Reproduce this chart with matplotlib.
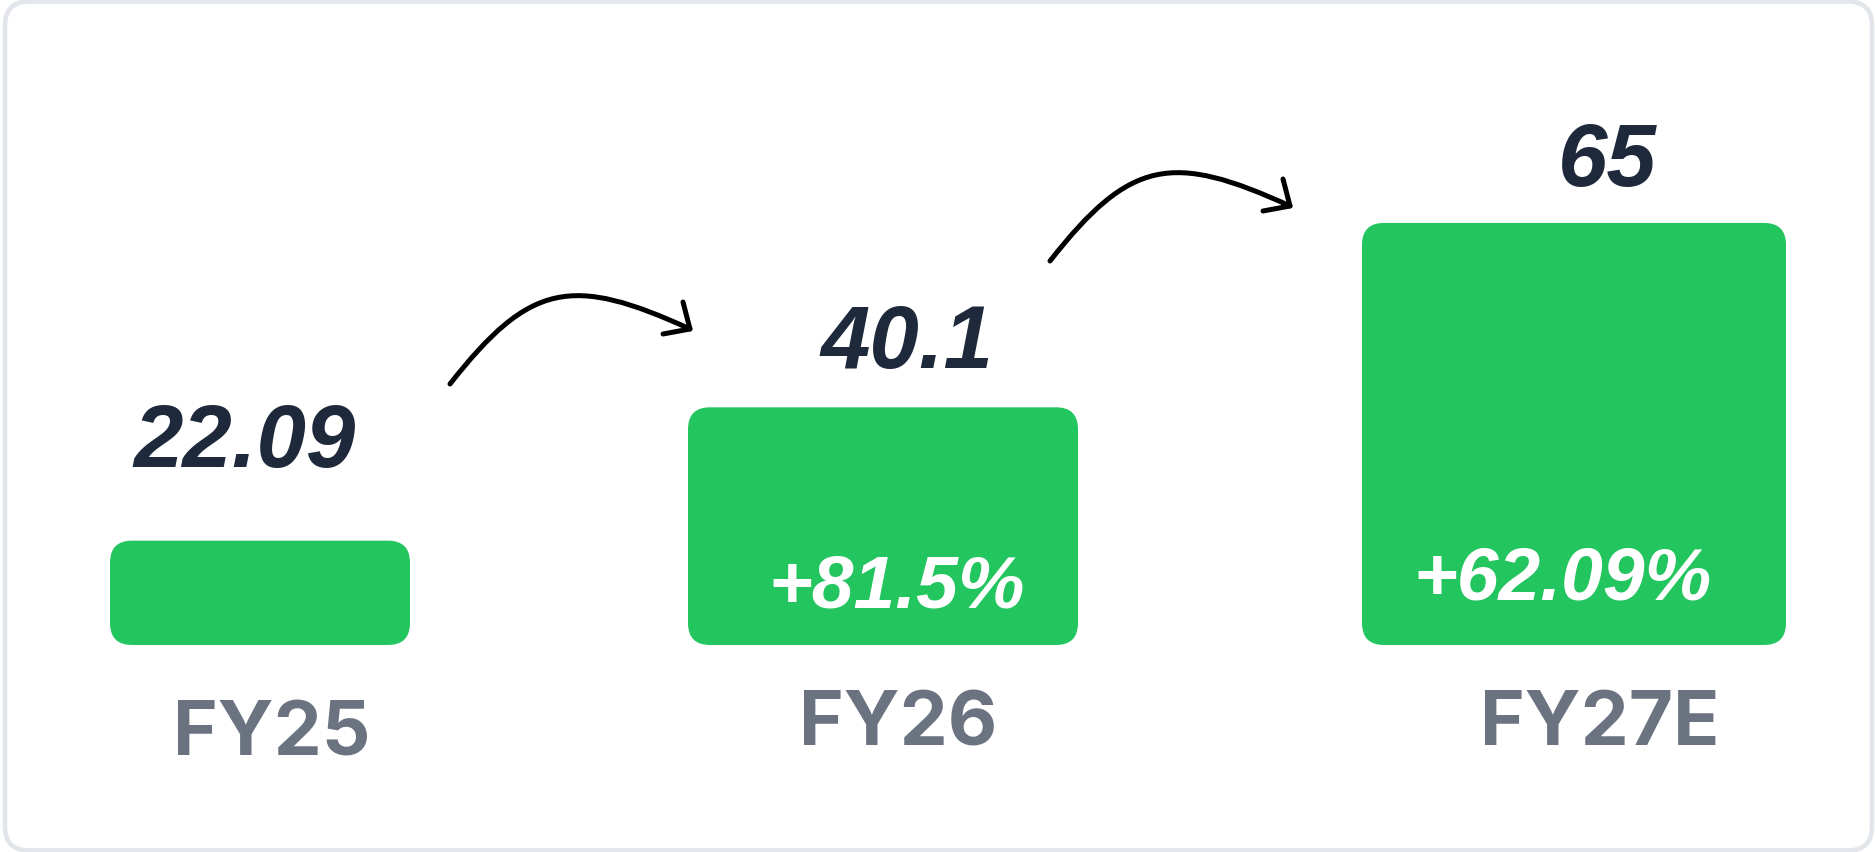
import matplotlib
matplotlib.use("Agg")
import matplotlib.pyplot as plt
from matplotlib.patches import FancyBboxPatch, PathPatch
from matplotlib.path import Path

plt.rcParams['font.family'] = ['Liberation Sans', 'DejaVu Sans']

# data
years = ['FY25', 'FY26', 'FY27E']
values = [22.09, 40.1, 65]
growth = ['', '+81.5%', '+62.09%']

# colours
green = '#22C55E'
navy = '#1E293B'
grey = '#6B7280'
frame_col = '#E2E5E9'

# layout, in output pixels
W, H = 1875, 853
bar_left = [110, 688, 1362]
bar_width = [300, 390, 424]
base_val = 8.0        # value sitting on the bar baseline
base_px = 646         # baseline, pixels from top
px_per_unit = 7.405
value_pos = [(133, 467), (820, 368), (1558, 186)]
growth_pos = [None, (768, 608), (1413, 600)]
year_pos = [(173, 755), (799, 746), (1480, 745)]
arrows = [((450, 385), (690, 330)), ((1050, 262), (1290, 207))]

fig = plt.figure(figsize=(W / 100, H / 100), dpi=100)

# bars on a value scale
bx = fig.add_axes([0, 0, 1, 1])
bx.set_xlim(0, W)
bx.set_ylim(base_val - (H - base_px) / px_per_unit, base_val + base_px / px_per_unit)
bx.axis('off')
for left, w, v in zip(bar_left, bar_width, values):
    bar = FancyBboxPatch((left, base_val), w, v - base_val,
                         boxstyle='round,pad=0,rounding_size=22',
                         mutation_aspect=1 / px_per_unit,
                         facecolor=green, edgecolor='none')
    bx.add_patch(bar)

# overlay in pixel coordinates for frame, text and arrows
ax = fig.add_axes([0, 0, 1, 1])
ax.set_xlim(0, W)
ax.set_ylim(H, 0)
ax.axis('off')
ax.patch.set_alpha(0)

frame = FancyBboxPatch((5, 2.5), W - 8, H - 4,
                       boxstyle='round,pad=0,rounding_size=24',
                       facecolor='none', edgecolor=frame_col, linewidth=3.3)
ax.add_patch(frame)

for v, (x, y) in zip(values, value_pos):
    ax.text(x, y, f'{v:g}', fontsize=64, fontweight='bold', style='italic',
            color=navy, ha='left', va='baseline')

for g, pos in zip(growth, growth_pos):
    if pos:
        ax.text(pos[0], pos[1], g, fontsize=54, fontweight='bold', style='italic',
                color='white', ha='left', va='baseline')

for lab, (x, y) in zip(years, year_pos):
    ax.text(x, y, lab, fontsize=55, fontweight='bold', color=grey,
            family=['Inter', 'Liberation Sans'], ha='left', va='baseline')

# hand-drawn style curved arrows
for (x0, y0), (x3, y3) in arrows:
    verts = [(x0, y0), (x0 + 80, y0 - 102), (x3 - 118, y3 - 54), (x3, y3)]
    curve = Path(verts, [Path.MOVETO, Path.CURVE4, Path.CURVE4, Path.CURVE4])
    ax.add_patch(PathPatch(curve, facecolor='none', edgecolor='black',
                           linewidth=3.6, capstyle='round'))
    ax.plot([x3 - 7, x3, x3 - 27], [y3 - 27, y3, y3 + 5], color='black',
            linewidth=3.6, solid_capstyle='round', solid_joinstyle='round')

fig.savefig('out.png', dpi=100, facecolor='white')
